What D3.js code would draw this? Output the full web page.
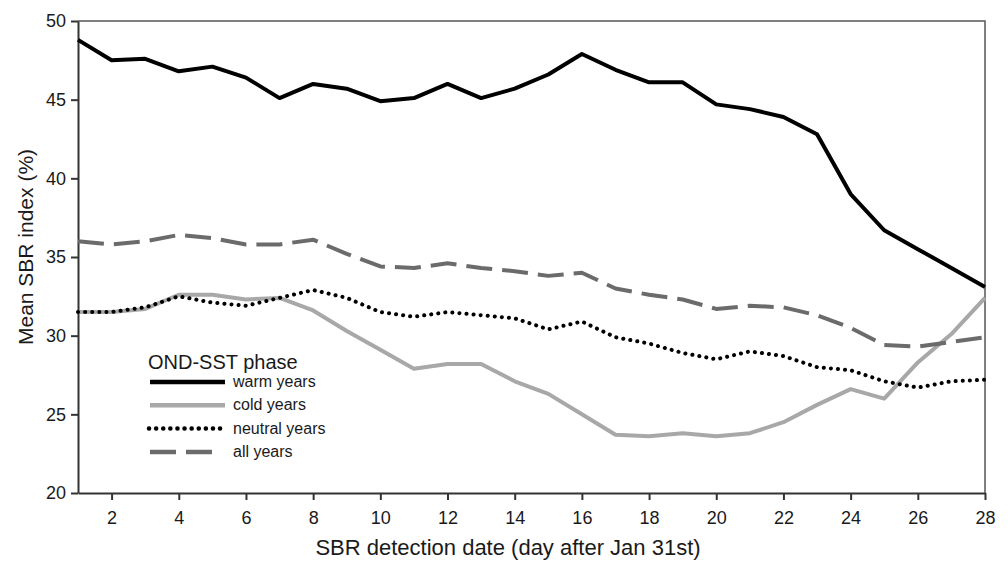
<!DOCTYPE html>
<html>
<head>
<meta charset="utf-8">
<script src="https://cdn.jsdelivr.net/npm/d3@7"></script>
<style>
  body { margin: 0; background: #fff; }
  svg { display: block; font-family: "Liberation Sans", Arial, sans-serif; }
</style>
</head>
<body>
<svg id="chart"></svg>
<script>
const days = d3.range(1, 29);
const warmYears = [48.8, 47.5, 47.6, 46.8, 47.1, 46.4, 45.1, 46.0, 45.7, 44.9, 45.1, 46.0, 45.1, 45.7,
  46.6, 47.9, 46.9, 46.1, 46.1, 44.7, 44.4, 43.9, 42.8, 39.0, 36.7, 35.5, 34.3, 33.1];
const coldYears = [31.5, 31.5, 31.7, 32.6, 32.6, 32.3, 32.4, 31.6, 30.3, 29.1, 27.9, 28.2, 28.2, 27.1,
  26.3, 25.0, 23.7, 23.6, 23.8, 23.6, 23.8, 24.5, 25.6, 26.6, 26.0, 28.3, 30.1, 32.4];
const neutralYears = [31.5, 31.5, 31.8, 32.5, 32.1, 31.9, 32.4, 32.9, 32.4, 31.5, 31.2, 31.5, 31.3, 31.1,
  30.4, 30.9, 29.9, 29.5, 28.9, 28.5, 29.0, 28.7, 28.0, 27.8, 27.1, 26.7, 27.1, 27.2];
const allYears = [36.0, 35.8, 36.0, 36.4, 36.2, 35.8, 35.8, 36.1, 35.2, 34.4, 34.3, 34.6, 34.3, 34.1,
  33.8, 34.0, 33.0, 32.6, 32.3, 31.7, 31.9, 31.8, 31.3, 30.5, 29.4, 29.3, 29.6, 29.9];
const xTicks = [2, 4, 6, 8, 10, 12, 14, 16, 18, 20, 22, 24, 26, 28];
const yTicks = [20, 25, 30, 35, 40, 45, 50];

const series = [
  { name: 'warm years', values: warmYears, color: '#000', dash: null, cap: 'butt', len: 77 },
  { name: 'cold years', values: coldYears, color: '#a8a8a8', dash: null, cap: 'butt', len: 77 },
  { name: 'neutral years', values: neutralYears, color: '#000', dash: '0.1 7', cap: 'round', len: 75 },
  { name: 'all years', values: allYears, color: '#6b6b6b', dash: '26 10', cap: 'butt', len: 64 }
];

const width = 1008, height = 561;
const margin = { top: 21, right: 23, bottom: 68, left: 78 };

const svg = d3.select('#chart')
  .attr('width', width)
  .attr('height', height)
  .attr('viewBox', `0 0 ${width} ${height}`);

const x = d3.scaleLinear().domain([1, 28]).range([margin.left, width - margin.right]);
const y = d3.scaleLinear().domain([20, 50]).range([height - margin.bottom, margin.top]);

// frame (top and right)
svg.append('path')
  .attr('d', `M${x(1)},${y(50)}H${x(28)}V${y(20)}`)
  .attr('fill', 'none')
  .attr('stroke', '#555')
  .attr('stroke-width', 1.5);

// axes
const xAxis = svg.append('g')
  .attr('transform', `translate(0,${y(20)})`)
  .call(d3.axisBottom(x).tickValues(xTicks).tickSize(7).tickSizeOuter(0).tickPadding(11));
const yAxis = svg.append('g')
  .attr('transform', `translate(${x(1)},0)`)
  .call(d3.axisLeft(y).tickValues(yTicks).tickSize(7).tickSizeOuter(0).tickPadding(5));

[xAxis, yAxis].forEach(a => {
  a.select('.domain').attr('stroke', '#333').attr('stroke-width', 2);
  a.selectAll('.tick line').attr('stroke', '#333').attr('stroke-width', 2);
  a.selectAll('.tick text')
    .attr('font-size', '18px')
    .attr('fill', '#1a1a1a')
    .attr('font-family', '"Liberation Sans", Arial, sans-serif');
});

// lines
const line = d3.line()
  .x((_, i) => x(days[i]))
  .y(d => y(d));

series.forEach(s => {
  svg.append('path')
    .datum(s.values)
    .attr('fill', 'none')
    .attr('stroke', s.color)
    .attr('stroke-width', 4)
    .attr('stroke-linejoin', 'round')
    .attr('stroke-linecap', s.cap)
    .attr('stroke-dasharray', s.dash)
    .attr('d', line);
});

// axis titles
svg.append('text')
  .attr('x', 508)
  .attr('y', 555)
  .attr('text-anchor', 'middle')
  .attr('font-size', '22px')
  .attr('fill', '#1a1a1a')
  .text('SBR detection date (day after Jan 31st)');

svg.append('text')
  .attr('transform', 'rotate(-90)')
  .attr('x', -247)
  .attr('y', 33)
  .attr('text-anchor', 'middle')
  .attr('font-size', '21px')
  .attr('fill', '#1a1a1a')
  .text('Mean SBR index (%)');

// legend
const legend = svg.append('g').attr('transform', 'translate(148, 0)');
legend.append('text')
  .attr('x', 0)
  .attr('y', 369)
  .attr('font-size', '20px')
  .attr('fill', '#1a1a1a')
  .text('OND-SST phase');

series.forEach((s, i) => {
  const ly = 382 + i * 23.3;
  legend.append('line')
    .attr('x1', s.cap === 'round' ? 1 : 2).attr('x2', s.len)
    .attr('y1', ly).attr('y2', ly)
    .attr('stroke', s.color)
    .attr('stroke-width', 4.5)
    .attr('stroke-linecap', s.cap)
    .attr('stroke-dasharray', s.dash);
  legend.append('text')
    .attr('x', 85)
    .attr('y', ly + 5)
    .attr('font-size', '16px')
    .attr('fill', '#1a1a1a')
    .text(s.name);
});
</script>
</body>
</html>
